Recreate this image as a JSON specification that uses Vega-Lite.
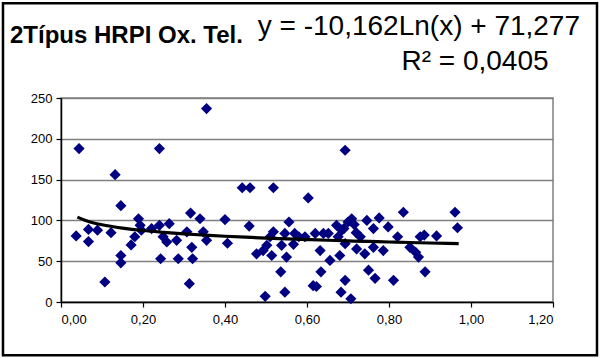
{
  "$schema": "https://vega.github.io/schema/vega-lite/v6.json",
  "autosize": {"type": "none"},
  "width": 492,
  "height": 204,
  "padding": {"left": 61, "top": 98, "right": 48, "bottom": 56},
  "background": "white",
  "config": {
    "font": "Liberation Sans",
    "view": {"stroke": "#808080", "strokeWidth": 1.5},
    "axis": {"labelFont": "Liberation Sans", "labelFontSize": 13, "labelColor": "black", "domainColor": "black", "tickColor": "black", "tickSize": 5, "domainWidth": 1.5, "tickWidth": 1.2}
  },
  "datasets": {
    "points": [
      {"x": 0.044, "y": 188}, {"x": 0.132, "y": 156}, {"x": 0.146, "y": 118}, {"x": 0.037, "y": 81},
      {"x": 0.067, "y": 89}, {"x": 0.067, "y": 74}, {"x": 0.089, "y": 88}, {"x": 0.122, "y": 85},
      {"x": 0.107, "y": 24.5}, {"x": 0.146, "y": 57}, {"x": 0.146, "y": 48}, {"x": 0.171, "y": 70},
      {"x": 0.18, "y": 80}, {"x": 0.189, "y": 102}, {"x": 0.193, "y": 94}, {"x": 0.196, "y": 88},
      {"x": 0.355, "y": 237}, {"x": 0.24, "y": 188}, {"x": 0.24, "y": 94}, {"x": 0.221, "y": 90},
      {"x": 0.264, "y": 96}, {"x": 0.258, "y": 73.5}, {"x": 0.249, "y": 80}, {"x": 0.243, "y": 53},
      {"x": 0.286, "y": 53}, {"x": 0.282, "y": 75.6}, {"x": 0.307, "y": 86}, {"x": 0.316, "y": 109},
      {"x": 0.339, "y": 102}, {"x": 0.319, "y": 67}, {"x": 0.321, "y": 53}, {"x": 0.313, "y": 22.5},
      {"x": 0.347, "y": 86}, {"x": 0.355, "y": 75.6}, {"x": 0.4, "y": 101}, {"x": 0.406, "y": 72},
      {"x": 0.442, "y": 140}, {"x": 0.461, "y": 140}, {"x": 0.518, "y": 140}, {"x": 0.603, "y": 127.5},
      {"x": 0.459, "y": 93}, {"x": 0.477, "y": 59}, {"x": 0.493, "y": 63}, {"x": 0.502, "y": 69.5},
      {"x": 0.514, "y": 57}, {"x": 0.518, "y": 86}, {"x": 0.51, "y": 80}, {"x": 0.538, "y": 69.5},
      {"x": 0.55, "y": 55}, {"x": 0.556, "y": 98}, {"x": 0.546, "y": 84}, {"x": 0.567, "y": 70.7},
      {"x": 0.536, "y": 37}, {"x": 0.546, "y": 12}, {"x": 0.498, "y": 7}, {"x": 0.595, "y": 80},
      {"x": 0.615, "y": 20}, {"x": 0.693, "y": 186}, {"x": 0.62, "y": 84}, {"x": 0.64, "y": 84},
      {"x": 0.652, "y": 84}, {"x": 0.672, "y": 94}, {"x": 0.709, "y": 102}, {"x": 0.746, "y": 100},
      {"x": 0.776, "y": 103}, {"x": 0.762, "y": 90}, {"x": 0.798, "y": 92}, {"x": 0.632, "y": 63},
      {"x": 0.656, "y": 51}, {"x": 0.68, "y": 57}, {"x": 0.693, "y": 71.5}, {"x": 0.721, "y": 65},
      {"x": 0.741, "y": 59}, {"x": 0.762, "y": 67}, {"x": 0.786, "y": 63}, {"x": 0.634, "y": 37},
      {"x": 0.623, "y": 19}, {"x": 0.693, "y": 26.6}, {"x": 0.683, "y": 12}, {"x": 0.707, "y": 4},
      {"x": 0.75, "y": 39}, {"x": 0.766, "y": 29}, {"x": 0.811, "y": 26.6}, {"x": 0.676, "y": 80},
      {"x": 0.73, "y": 80}, {"x": 0.835, "y": 110}, {"x": 0.821, "y": 80}, {"x": 0.851, "y": 67},
      {"x": 0.872, "y": 55}, {"x": 0.865, "y": 61}, {"x": 0.876, "y": 80}, {"x": 0.886, "y": 82},
      {"x": 0.916, "y": 81}, {"x": 0.961, "y": 110}, {"x": 0.967, "y": 91}, {"x": 0.888, "y": 37},
      {"x": 0.70, "y": 98}, {"x": 0.69, "y": 90}, {"x": 0.58, "y": 80}, {"x": 0.57, "y": 84},
      {"x": 0.685, "y": 88}, {"x": 0.715, "y": 95}, {"x": 0.72, "y": 85}
    ],
    "trend": [
      {"x": 0.04, "y": 104}, {"x": 0.06, "y": 99.9}, {"x": 0.08, "y": 96.9}, {"x": 0.10, "y": 94.7},
      {"x": 0.15, "y": 90.6}, {"x": 0.20, "y": 87.6}, {"x": 0.25, "y": 85.4}, {"x": 0.30, "y": 83.5},
      {"x": 0.35, "y": 82.0}, {"x": 0.40, "y": 80.6}, {"x": 0.45, "y": 79.4}, {"x": 0.50, "y": 78.3},
      {"x": 0.55, "y": 77.4}, {"x": 0.60, "y": 76.5}, {"x": 0.65, "y": 75.7}, {"x": 0.70, "y": 74.9},
      {"x": 0.75, "y": 74.2}, {"x": 0.80, "y": 73.5}, {"x": 0.85, "y": 72.9}, {"x": 0.90, "y": 72.3},
      {"x": 0.97, "y": 71.6}
    ]
  },
  "layer": [
    {
      "data": {"name": "points"},
      "mark": {"type": "point", "shape": "diamond", "filled": true, "color": "#000080", "size": 125, "opacity": 1},
      "encoding": {
        "x": {"field": "x", "type": "quantitative", "scale": {"domain": [0, 1.2], "nice": false},
          "axis": {"values": [0, 0.2, 0.4, 0.6, 0.8, 1.0, 1.2], "title": null, "grid": false, "labelExpr": "replace(format(datum.value, '.2f'), '.', ',')", "labelPadding": 6}},
        "y": {"field": "y", "type": "quantitative", "scale": {"domain": [0, 250], "nice": false},
          "axis": {"values": [0, 50, 100, 150, 200, 250], "title": null, "grid": true, "gridColor": "#808080", "gridWidth": 1.5, "labelPadding": 4}}
      }
    },
    {
      "data": {"name": "trend"},
      "mark": {"type": "line", "color": "black", "strokeWidth": 3.2, "interpolate": "monotone"},
      "encoding": {
        "x": {"field": "x", "type": "quantitative"},
        "y": {"field": "y", "type": "quantitative"}
      }
    },
    {
      "data": {"values": [{"a": 1}]},
      "mark": {"type": "rect", "fill": null, "fillOpacity": 0, "stroke": "black", "strokeWidth": 2.5},
      "encoding": {
        "x": {"datum": -0.1415},
        "x2": {"datum": 1.3073},
        "y": {"datum": 366},
        "y2": {"datum": -65.3}
      }
    },
    {
      "data": {"values": [{"t": "2Típus HRPI Ox. Tel."}]},
      "mark": {"type": "text", "align": "left", "baseline": "alphabetic", "fontSize": 24, "fontWeight": "bold", "font": "Liberation Sans", "color": "black"},
      "encoding": {"x": {"datum": -0.1244}, "y": {"datum": 317}, "text": {"field": "t"}}
    },
    {
      "data": {"values": [{"t": "y = -10,162Ln(x) + 71,277"}]},
      "mark": {"type": "text", "align": "right", "baseline": "alphabetic", "fontSize": 28, "font": "Liberation Sans", "color": "black"},
      "encoding": {"x": {"datum": 1.2659}, "y": {"datum": 326.8}, "text": {"field": "t"}}
    },
    {
      "data": {"values": [{"t": "R² = 0,0405"}]},
      "mark": {"type": "text", "align": "center", "baseline": "alphabetic", "fontSize": 28, "font": "Liberation Sans", "color": "black"},
      "encoding": {"x": {"datum": 1.0098}, "y": {"datum": 283.8}, "text": {"field": "t"}}
    }
  ]
}
